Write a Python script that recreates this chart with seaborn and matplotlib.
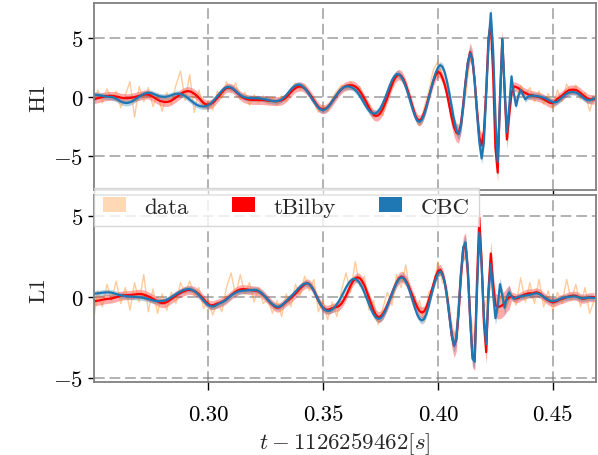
import numpy as np
import matplotlib
matplotlib.use("Agg")
import matplotlib.pyplot as plt
from matplotlib.patches import Patch
from matplotlib.ticker import MultipleLocator, FormatStrFormatter
import seaborn as sns

# whitened strain, 1 ms grid for the reconstructions, 2 ms grid for the data
t0 = 0.25
dt_rec = 0.001
dt_data = 0.002

h1_tbilby = [
    -0.20, -0.15, -0.10, -0.05, 0.00, 0.05, 0.08, 0.10, 0.10, 0.08,
    0.04, 0.00, -0.05, -0.08, -0.10, -0.10, -0.08, -0.05, 0.00, 0.05,
    0.10, 0.15, 0.20, 0.22, 0.20, 0.12, 0.02, -0.10, -0.22, -0.32,
    -0.38, -0.42, -0.42, -0.38, -0.30, -0.18, -0.05, 0.10, 0.25, 0.38,
    0.46, 0.50, 0.48, 0.40, 0.28, 0.12, -0.08, -0.30, -0.50, -0.62,
    -0.65, -0.60, -0.48, -0.30, -0.08, 0.15, 0.40, 0.62, 0.76, 0.80,
    0.76, 0.65, 0.48, 0.30, 0.12, -0.02, -0.12, -0.18, -0.22, -0.24,
    -0.25, -0.25, -0.25, -0.25, -0.26, -0.28, -0.30, -0.32, -0.34, -0.35,
    -0.35, -0.33, -0.28, -0.18, -0.02, 0.18, 0.40, 0.60, 0.76, 0.86,
    0.90, 0.86, 0.74, 0.55, 0.30, 0.02, -0.28, -0.58, -0.84, -1.00,
    -1.05, -1.00, -0.86, -0.64, -0.38, -0.10, 0.18, 0.44, 0.66, 0.82,
    0.93, 0.98, 1.00, 0.98, 0.90, 0.74, 0.50, 0.20, -0.14, -0.50,
    -0.90, -1.25, -1.50, -1.60, -1.55, -1.35, -1.00, -0.55, -0.05, 0.50,
    1.05, 1.50, 1.80, 1.90, 1.80, 1.50, 1.02, 0.45, -0.18, -0.85,
    -1.50, -1.90, -2.00, -1.80, -1.35, -0.70, 0.00, 0.70, 1.35, 1.85,
    2.15, 2.00, 1.60, 1.00, 0.20, -0.80, -1.75, -2.55, -3.00, -3.10,
    -2.30, -0.60, 1.30, 2.90, 3.80, 3.20, 1.20, -1.20, -3.40, -4.10,
    -2.90, 0.60, 5.00, 6.30, 2.00, -4.30, -6.40, 0.00, 4.90, 0.50,
    -3.60, -1.50, 0.30, 0.90, 0.85, 0.75, 0.60, 0.45, 0.35, 0.25,
    0.18, 0.15, 0.10, 0.05, 0.00, -0.08, -0.18, -0.30, -0.42, -0.50,
    -0.48, -0.35, -0.15, -0.02, 0.12, 0.30, 0.45, 0.58, 0.62, 0.62,
    0.60, 0.50, 0.35, 0.18, 0.02, -0.12, -0.18, -0.20, -0.20,
]
h1_cbc = [
    0.20, 0.20, 0.18, 0.14, 0.10, 0.06, 0.03, 0.01, 0.00, -0.05,
    -0.15, -0.27, -0.38, -0.46, -0.50, -0.50, -0.45, -0.36, -0.24, -0.10,
    0.04, 0.16, 0.26, 0.32, 0.35, 0.34, 0.28, 0.20, 0.12, 0.06,
    0.03, 0.02, 0.03, 0.08, 0.15, 0.22, 0.27, 0.28, 0.25, 0.18,
    0.08, -0.06, -0.22, -0.38, -0.53, -0.65, -0.74, -0.79, -0.80, -0.78,
    -0.70, -0.56, -0.38, -0.16, 0.08, 0.32, 0.54, 0.72, 0.83, 0.85,
    0.80, 0.68, 0.50, 0.32, 0.16, 0.04, -0.03, -0.07, -0.09, -0.10,
    -0.10, -0.10, -0.11, -0.13, -0.16, -0.20, -0.25, -0.30, -0.34, -0.36,
    -0.35, -0.30, -0.20, -0.04, 0.16, 0.40, 0.64, 0.84, 0.98, 1.05,
    1.03, 0.92, 0.74, 0.50, 0.22, -0.08, -0.38, -0.66, -0.90, -1.06,
    -1.10, -1.04, -0.88, -0.64, -0.36, -0.06, 0.22, 0.48, 0.68, 0.82,
    0.89, 0.90, 0.86, 0.76, 0.60, 0.38, 0.10, -0.22, -0.56, -0.88,
    -1.15, -1.33, -1.40, -1.38, -1.22, -0.94, -0.55, -0.08, 0.44, 0.96,
    1.42, 1.76, 1.94, 1.92, 1.72, 1.36, 0.86, 0.26, -0.40, -1.05,
    -1.62, -2.00, -2.10, -1.92, -1.50, -0.86, -0.08, 0.72, 1.45, 2.05,
    2.50, 2.70, 2.55, 2.05, 1.25, 0.25, -0.85, -1.95, -2.80, -3.15,
    -2.50, -0.80, 1.20, 2.90, 3.70, 3.20, 1.30, -1.40, -3.80, -5.20,
    -3.80, 0.20, 4.50, 7.10, 4.00, -1.80, -5.50, -0.50, 4.90, 0.80,
    -3.00, -0.80, 1.75, 0.30, -0.75, 0.10, 0.60, 0.20, -0.20, 0.00,
    0.10, 0.12, 0.10, 0.08, 0.04, 0.00, -0.06, -0.14, -0.24, -0.34,
    -0.42, -0.45, -0.38, -0.22, -0.04, 0.14, 0.28, 0.38, 0.42, 0.42,
    0.38, 0.28, 0.14, -0.02, -0.16, -0.26, -0.28, -0.22, -0.12,
]
h1_data = [
    -0.9, 0.6, -0.5, 0.7, -0.2, 0.5, -0.9, 0.2, 1.3, -1.7,
    0.9, -0.4, 0.8, -0.8, 0.3, -1.2, 0.4, -0.6, 1.0, 2.2,
    -0.3, 1.9, -1.3, 0.6, -1.0, -0.3, -1.1, 0.5, -0.1, 1.3,
    0.4, 1.2, -0.2, 0.4, -0.7, 0.2, -0.5, 0.1, -0.6, 0.0,
    -0.7, 0.1, -0.4, 0.6, 1.2, 0.6, 1.0, 0.1, -0.4, -1.3,
    -0.7, -1.2, -0.1, 0.5, 1.0, 0.7, 1.3, 0.7, 0.9, -0.5,
    -0.6, -1.7, -1.2, -1.6, 0.3, 0.8, 1.9, 1.5, 1.3, -0.5,
    -1.2, -2.4, -0.9, 0.5, 2.3, 3.0, 1.6, 0.8, -1.6, -3.2,
    -2.5, 0.0, 3.5, 1.8, -2.8, -3.5, 3.8, 4.5, -5.0, 4.2,
    -2.8, 1.2, -0.3, 1.0, 0.2, 0.8, -0.4, 0.5, -0.6, 0.3,
    -1.0, 0.6, -0.4, 1.1, 0.3, 1.0, -0.2, 0.4, -1.2, 0.1,
]
l1_tbilby = [
    -0.25, -0.24, -0.22, -0.19, -0.16, -0.13, -0.11, -0.10, -0.08, -0.04,
    0.00, 0.05, 0.09, 0.11, 0.12, 0.13, 0.14, 0.15, 0.17, 0.19,
    0.20, 0.19, 0.16, 0.11, 0.05, -0.02, -0.10, -0.18, -0.26, -0.33,
    -0.37, -0.36, -0.30, -0.21, -0.11, 0.00, 0.10, 0.19, 0.27, 0.34,
    0.40, 0.44, 0.45, 0.43, 0.38, 0.30, 0.18, 0.04, -0.12, -0.28,
    -0.42, -0.50, -0.50, -0.45, -0.40, -0.35, -0.30, -0.22, -0.12, 0.00,
    0.12, 0.24, 0.34, 0.42, 0.48, 0.50, 0.49, 0.47, 0.45, 0.43,
    0.41, 0.40, 0.35, 0.26, 0.14, 0.00, -0.16, -0.32, -0.46, -0.58,
    -0.65, -0.62, -0.52, -0.40, -0.28, -0.17, -0.05, 0.08, 0.22, 0.38,
    0.54, 0.68, 0.80, 0.86, 0.82, 0.66, 0.40, 0.10, -0.20, -0.46,
    -0.65, -0.76, -0.78, -0.74, -0.68, -0.63, -0.60, -0.54, -0.40, -0.18,
    0.08, 0.40, 0.72, 0.98, 1.16, 1.23, 1.18, 1.00, 0.72, 0.36,
    -0.04, -0.44, -0.82, -1.10, -1.23, -1.20, -1.05, -0.80, -0.48, -0.12,
    0.24, 0.60, 0.92, 1.16, 1.27, 1.22, 1.04, 0.76, 0.42, 0.06,
    -0.30, -0.62, -0.86, -0.95, -0.88, -0.62, -0.20, 0.30, 0.82, 1.28,
    1.60, 1.70, 1.45, 0.90, 0.00, -1.20, -2.35, -3.00, -2.60, -0.90,
    1.35, 3.00, 3.25, 1.60, -1.30, -3.60, -3.80, 1.00, 4.90, 2.20,
    -1.60, -3.40, 0.50, 2.70, 0.80, -0.50, -0.60, -0.58, -0.50, -0.35,
    -0.15, 0.00, 0.05, 0.00, -0.08, -0.05, 0.05, 0.12, 0.18, 0.22,
    0.25, 0.22, 0.28, 0.30, 0.25, 0.15, 0.02, -0.10, -0.20, -0.27,
    -0.30, -0.28, -0.22, -0.15, -0.10, -0.06, 0.00, 0.05, 0.08, 0.10,
    0.08, 0.02, -0.05, -0.10, -0.08, -0.03, 0.00, 0.00, 0.00,
]
l1_cbc = [
    0.20, 0.22, 0.24, 0.26, 0.28, 0.29, 0.30, 0.30, 0.28, 0.24,
    0.20, 0.15, 0.11, 0.09, 0.07, 0.05, 0.04, 0.03, 0.02, 0.01,
    0.00, -0.02, -0.05, -0.08, -0.12, -0.16, -0.20, -0.23, -0.25, -0.25,
    -0.24, -0.21, -0.16, -0.09, 0.00, 0.09, 0.18, 0.27, 0.35, 0.42,
    0.47, 0.50, 0.50, 0.46, 0.38, 0.26, 0.12, -0.04, -0.20, -0.36,
    -0.48, -0.56, -0.58, -0.54, -0.46, -0.38, -0.32, -0.24, -0.14, -0.02,
    0.10, 0.20, 0.28, 0.34, 0.38, 0.40, 0.41, 0.42, 0.43, 0.44,
    0.45, 0.44, 0.38, 0.28, 0.15, 0.00, -0.16, -0.31, -0.44, -0.54,
    -0.60, -0.58, -0.50, -0.38, -0.24, -0.10, 0.04, 0.18, 0.34, 0.50,
    0.64, 0.76, 0.84, 0.86, 0.80, 0.64, 0.40, 0.10, -0.20, -0.46,
    -0.66, -0.80, -0.86, -0.84, -0.76, -0.62, -0.44, -0.22, 0.04, 0.32,
    0.60, 0.84, 1.02, 1.12, 1.13, 1.04, 0.86, 0.60, 0.28, -0.08,
    -0.44, -0.78, -1.06, -1.26, -1.34, -1.30, -1.14, -0.88, -0.54, -0.16,
    0.22, 0.58, 0.90, 1.12, 1.23, 1.18, 0.98, 0.66, 0.24, -0.22,
    -0.68, -1.08, -1.34, -1.44, -1.34, -1.02, -0.52, 0.06, 0.62, 1.10,
    1.45, 1.60, 1.40, 0.85, -0.05, -1.20, -2.35, -3.00, -2.55, -0.80,
    1.45, 3.10, 3.40, 1.70, -1.30, -3.80, -4.00, 0.40, 4.00, 2.00,
    -1.20, -2.90, 0.20, 2.05, 0.20, -1.30, -0.50, 0.80, 0.10, -0.65,
    0.00, 0.30, 0.05, -0.10, -0.05, 0.02, 0.05, 0.08, 0.10, 0.12,
    0.15, 0.18, 0.22, 0.24, 0.20, 0.12, 0.02, -0.08, -0.16, -0.22,
    -0.24, -0.22, -0.18, -0.12, -0.06, -0.02, 0.00, 0.02, 0.04, 0.05,
    0.04, 0.00, -0.05, -0.08, -0.06, -0.03, -0.02, -0.04, -0.05,
]
l1_data = [
    -1.6, 0.4, -0.6, 0.8, -0.2, 1.0, -0.4, 0.6, -0.8, 0.9,
    -0.3, 1.4, -0.9, 0.5, -1.0, 0.2, -0.8, 0.3, -0.4, 0.9,
    0.2, 1.0, 0.1, 0.6, -0.7, -0.2, -1.1, -0.3, -0.9, 0.6,
    1.5, 0.1, 1.4, 0.2, 0.9, -0.3, 0.6, -0.4, -0.1, -1.0,
    -0.2, -1.2, 0.2, -0.6, 0.8, 0.1, 1.3, 0.4, 1.1, -0.9,
    -0.2, -1.4, -0.3, -1.2, 0.4, 1.5, 0.3, 2.2, 0.7, 1.3,
    -0.8, -0.2, -1.7, -0.7, 0.3, -0.5, 1.4, 0.6, 2.0, 0.1,
    -0.8, -0.2, -1.5, 0.3, 0.6, 2.2, 0.9, 0.6, -2.6, -1.9,
    1.9, 2.5, -0.6, -3.2, 4.2, -0.8, 0.2, 1.0, -1.0, 0.4,
    -0.6, 0.2, -0.5, 1.2, -0.3, 0.9, -0.4, 1.1, -0.6, 0.4,
    -0.8, 0.3, -0.4, 1.1, -0.2, 0.8, -0.6, 0.6, -1.0, -0.2,
]
# 90% band half-widths (early inspiral / late inspiral / merger / ringdown)
h1_tbilby_err = [0.38] * 120 + [0.45] * 35 + [0.80] * 27 + [0.40] * 37
h1_cbc_err = [0.25] * 120 + [0.30] * 35 + [0.50] * 27 + [0.25] * 37
l1_tbilby_err = [0.28] * 120 + [0.34] * 35 + [0.75] * 27 + [0.28] * 37
l1_cbc_err = [0.18] * 120 + [0.22] * 35 + [0.42] * 27 + [0.18] * 37

detectors = ["H1", "L1"]
labels = ["data", "tBilby", "CBC"]
ylims = [(-7.85, 7.95), (-5.25, 6.3)]

sns.set_style("ticks")
plt.rcParams["font.family"] = ["cmr10", "DejaVu Serif"]
plt.rcParams["mathtext.fontset"] = "cm"
plt.rcParams["axes.formatter.use_mathtext"] = True
plt.rcParams["axes.unicode_minus"] = True

fs = 16.5
c_data = "C1"
c_tb = "red"
c_cbc = "C0"

fig, axes = plt.subplots(2, 1, sharex=True, figsize=(5.98, 4.56), dpi=100)
fig.subplots_adjust(left=0.157, right=0.996, top=0.991, bottom=0.160, hspace=0.03)

series = [
    (h1_data, h1_tbilby, h1_tbilby_err, h1_cbc, h1_cbc_err),
    (l1_data, l1_tbilby, l1_tbilby_err, l1_cbc, l1_cbc_err),
]

for ax, det, (dat, tb, tb_err, cbc, cbc_err), yl in zip(axes, detectors, series, ylims):
    t_d = t0 + dt_data * np.arange(len(dat))
    t_r = t0 + dt_rec * np.arange(len(tb))
    tb = np.array(tb)
    cbc = np.array(cbc)
    tb_err = np.array(tb_err)
    cbc_err = np.array(cbc_err)

    sns.lineplot(x=t_d, y=dat, ax=ax, color=c_data, alpha=0.4, lw=1.0, estimator=None)
    ax.fill_between(t_r, tb - tb_err, tb + tb_err, color=c_tb, alpha=0.33, lw=0)
    sns.lineplot(x=t_r, y=tb, ax=ax, color=c_tb, lw=1.6, estimator=None)
    ax.fill_between(t_r, cbc - cbc_err, cbc + cbc_err, color=c_cbc, alpha=0.33, lw=0)
    sns.lineplot(x=t_r, y=cbc, ax=ax, color=c_cbc, lw=1.6, estimator=None)

    ax.set_ylim(*yl)
    ax.set_xlim(0.2503, 0.4686)
    ax.set_ylabel(det, fontsize=fs)
    ax.yaxis.set_major_locator(MultipleLocator(5))
    ax.xaxis.set_major_locator(MultipleLocator(0.05))
    ax.xaxis.set_major_formatter(FormatStrFormatter("%.2f"))
    ax.grid(True, ls=(0, (5.5, 2.5)), lw=1.4, color="0.45", alpha=0.55)
    ax.set_axisbelow(True)
    ax.tick_params(direction="out", length=4, width=1, colors="black", labelsize=fs)
    ax.tick_params(axis="x", length=6, pad=10)
    for sp in ax.spines.values():
        sp.set_visible(True)
        sp.set_color("0.5")
        sp.set_linewidth(1.3)

axes[1].set_xlabel(r"$t-1126259462[s]$", fontsize=fs, labelpad=5)

handles = [
    Patch(facecolor=c_data, alpha=0.3, edgecolor="none"),
    Patch(facecolor=c_tb, edgecolor="none"),
    Patch(facecolor=c_cbc, edgecolor="none"),
]
axes[1].legend(handles, labels, loc="upper left", bbox_to_anchor=(0, 1.04),
               borderaxespad=0, ncol=3, fontsize=fs, handlelength=1.0,
               handleheight=0.6, columnspacing=1.9, fancybox=False,
               edgecolor="0.8", framealpha=0.8)

plt.savefig("out.png", dpi=100)
plt.close()
